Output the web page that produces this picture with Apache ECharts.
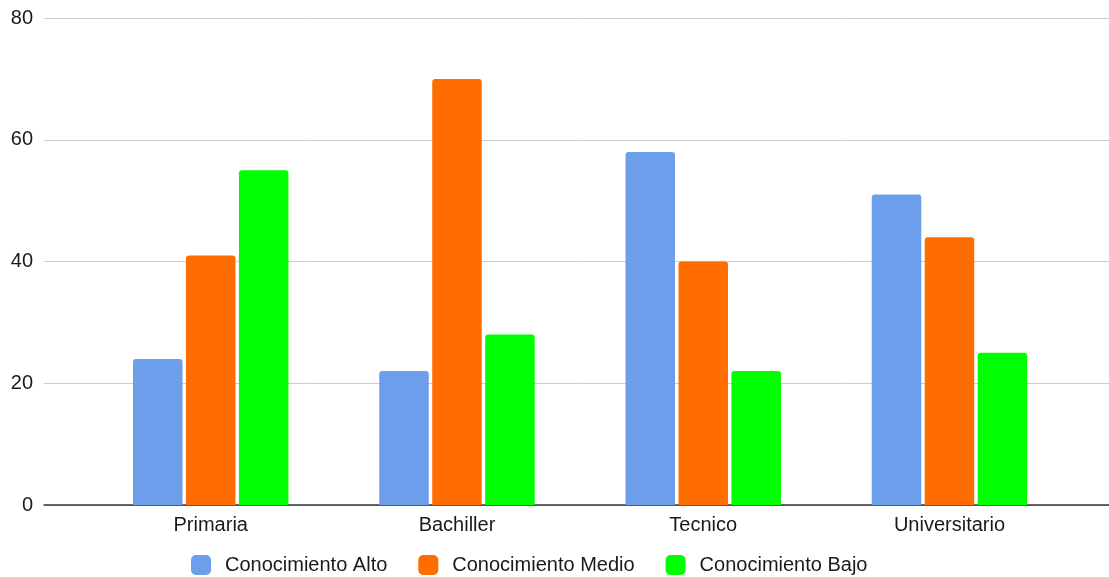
<!DOCTYPE html>
<html>
<head>
<meta charset="utf-8">
<script src="https://cdn.jsdelivr.net/npm/echarts@6/dist/echarts.min.js"></script>
<style>
  html, body { margin: 0; padding: 0; background: #fff; }
  #chart { width: 1109px; height: 577px; }
</style>
</head>
<body>
<div id="chart"></div>
<script>
// Nivel educativo y nivel de conocimiento
const categories = ['Primaria', 'Bachiller', 'Tecnico', 'Universitario'];
const seriesNames = ['Conocimiento Alto', 'Conocimiento Medio', 'Conocimiento Bajo'];
const alto = [24, 22, 58, 51];
const medio = [41, 70, 40, 44];
const bajo = [55, 28, 22, 25];
const yTicks = { min: 0, max: 80, interval: 20 };

const colors = ['#6d9eeb', '#ff6d01', '#00ff00'];
const font = '"Liberation Sans", Arial, sans-serif';
const textColor = '#1a1a1a';

const chart = echarts.init(document.getElementById('chart'), null, { renderer: 'canvas' });

const barStyle = (c) => ({ color: c, borderRadius: [3, 3, 0, 0] });

chart.setOption({
  animation: false,
  backgroundColor: '#fff',
  color: colors,
  textStyle: { fontFamily: font },
  legend: {
    top: 555,
    left: 191,
    padding: 0,
    itemWidth: 20,
    itemHeight: 20,
    itemGap: 31,
    icon: 'roundRect',
    textStyle: { fontSize: 20, color: textColor, fontFamily: font, padding: [0, 0, 0, 9] },
    data: seriesNames
  },
  grid: [
    // background grid: horizontal rules, value labels and baseline
    { left: 44, right: 0, top: 18, bottom: 72, containLabel: false },
    // bar grid
    { left: 87.6, right: 36.4, top: 18, bottom: 72, containLabel: false }
  ],
  xAxis: [
    {
      gridIndex: 0, type: 'category', data: [''],
      axisLine: { show: true, lineStyle: { color: '#333', width: 1.5 } },
      axisTick: { show: false }, axisLabel: { show: false }, splitLine: { show: false }
    },
    {
      gridIndex: 1, type: 'category', data: categories,
      axisLine: { show: false }, axisTick: { show: false },
      axisLabel: { fontSize: 20, color: textColor, margin: 10, fontFamily: font }
    }
  ],
  yAxis: [
    {
      gridIndex: 0, type: 'value', min: yTicks.min, max: yTicks.max, interval: yTicks.interval,
      axisLine: { show: false }, axisTick: { show: false },
      axisLabel: { fontSize: 20, color: textColor, margin: 11, fontFamily: font },
      splitLine: { lineStyle: { color: '#cccccc', width: 1 } }
    },
    {
      gridIndex: 1, type: 'value', min: yTicks.min, max: yTicks.max, interval: yTicks.interval,
      show: false, splitLine: { show: false }
    }
  ],
  series: [
    { name: seriesNames[0], type: 'bar', xAxisIndex: 1, yAxisIndex: 1, data: alto,
      barWidth: 49.5, barGap: '7%', itemStyle: barStyle(colors[0]) },
    { name: seriesNames[1], type: 'bar', xAxisIndex: 1, yAxisIndex: 1, data: medio,
      barWidth: 49.5, barGap: '7%', itemStyle: barStyle(colors[1]) },
    { name: seriesNames[2], type: 'bar', xAxisIndex: 1, yAxisIndex: 1, data: bajo,
      barWidth: 49.5, barGap: '7%', itemStyle: barStyle(colors[2]) }
  ]
});
</script>
</body>
</html>
